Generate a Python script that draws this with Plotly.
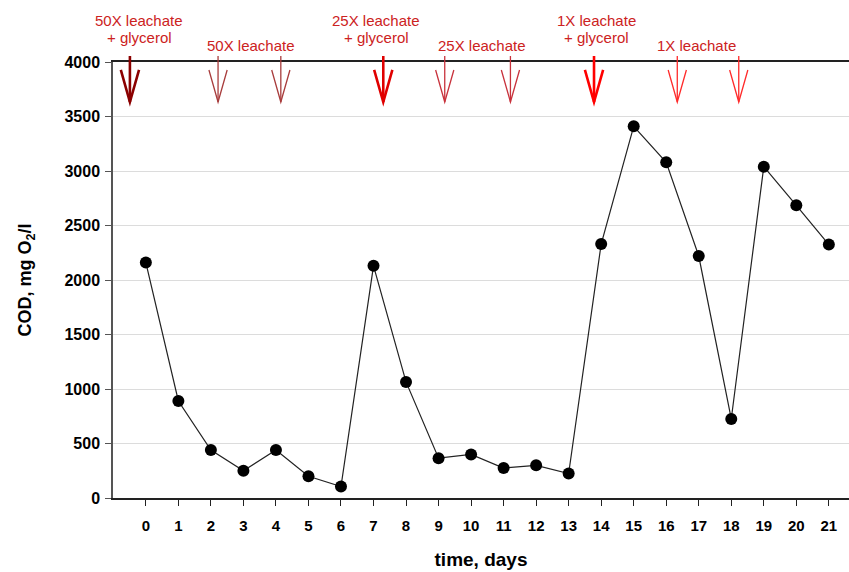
import plotly.graph_objects as go

# ---- data ----
days = list(range(22))
cod = [2160, 890, 440, 250, 440, 200, 105, 2130, 1065, 365, 400, 275, 300, 225,
       2330, 3410, 3080, 2220, 725, 3040, 2685, 2325]

# feeding events (day positions of arrows)
arrow_days = [-0.49, 2.22, 4.15, 7.30, 9.19, 11.21, 13.78, 16.34, 18.23]
arrow_colors = ["#8b0000", "#a83c3c", "#a83c3c", "#e00000", "#c8323c", "#c8323c",
                "#ff0000", "#ff2a2a", "#ff2a2a"]
arrow_thick = [True, False, False, True, False, False, True, False, False]

label_line1 = ["50X leachate", "50X leachate", "25X leachate",
               "25X leachate", "1X leachate", "1X leachate"]
label_line2 = ["+ glycerol", "", "+ glycerol", "", "+ glycerol", ""]
label_days = [-0.2, 3.23, 7.09, 10.33, 13.86, 16.94]

y_ticks = list(range(0, 4001, 500))

YMAX = 4000
FONT = "Liberation Sans, Arial, sans-serif"
RED_TXT = "#cc2222"

fig = go.Figure()
fig.add_trace(go.Scatter(
    x=days, y=cod, mode="lines+markers",
    line=dict(color="#222222", width=1.2),
    marker=dict(color="black", size=12),
    showlegend=False, hoverinfo="skip",
))

shapes = []
for xd, col, thick in zip(arrow_days, arrow_colors, arrow_thick):
    w = 2.6 if thick else 1.3
    half = 0.28
    shaft_top, tip, wing = 4055 / YMAX, 3633 / YMAX, 3927 / YMAX
    shapes.append(dict(type="line", xref="x", yref="paper", x0=xd, x1=xd,
                       y0=shaft_top, y1=tip, line=dict(color=col, width=w)))
    shapes.append(dict(type="path", xref="x", yref="paper",
                       path=f"M {xd-half},{wing} L {xd},{tip} L {xd+half},{wing}",
                       line=dict(color=col, width=w)))

annotations = []
for l1, l2, xd in zip(label_line1, label_line2, label_days):
    if l2:
        annotations.append(dict(x=xd, xref="x", y=1, yref="paper", yshift=42,
                                text=l1, showarrow=False, xanchor="center", yanchor="middle",
                                font=dict(family=FONT, size=15, color=RED_TXT)))
        annotations.append(dict(x=xd, xref="x", y=1, yref="paper", yshift=25,
                                text=l2, showarrow=False, xanchor="center", yanchor="middle",
                                font=dict(family=FONT, size=15, color=RED_TXT)))
    else:
        annotations.append(dict(x=xd, xref="x", y=1, yref="paper", yshift=17,
                                text=l1, showarrow=False, xanchor="center", yanchor="middle",
                                font=dict(family=FONT, size=15, color=RED_TXT)))

fig.update_layout(
    width=849, height=572,
    margin=dict(l=113, r=0, t=62, b=74),
    paper_bgcolor="white", plot_bgcolor="white",
    shapes=shapes, annotations=annotations,
    xaxis=dict(
        range=[-1.01, 21.62], tickmode="array", tickvals=days,
        ticktext=[str(d) for d in days],
        showgrid=False, zeroline=False, automargin=False,
        showline=True, linecolor="#222222", linewidth=1.5, mirror=True,
        ticks="outside", ticklen=6, tickcolor="#222222", tickwidth=1.2,
        ticklabelstandoff=7,
        tickfont=dict(family=FONT, size=15, color="black", weight="bold"),
        title=dict(text="time, days", standoff=20,
                   font=dict(family=FONT, size=19, color="black", weight="bold")),
    ),
    yaxis=dict(
        range=[0, YMAX], tickmode="array", tickvals=y_ticks,
        showgrid=True, gridcolor="#dcdcdc", gridwidth=1, zeroline=False, automargin=False,
        showline=True, linecolor="#555555", linewidth=1.5,
        ticks="outside", ticklen=6, tickcolor="#555555", tickwidth=1.2,
        ticklabelstandoff=2,
        tickfont=dict(family=FONT, size=16, color="black", weight="bold"),
        title=dict(text="COD, mg O<sub>2</sub>/l", standoff=28,
                   font=dict(family=FONT, size=18, color="black", weight="bold")),
    ),
)

fig.write_html("out.html", config={"displayModeBar": False},
               post_script="document.body.style.margin='0';")
